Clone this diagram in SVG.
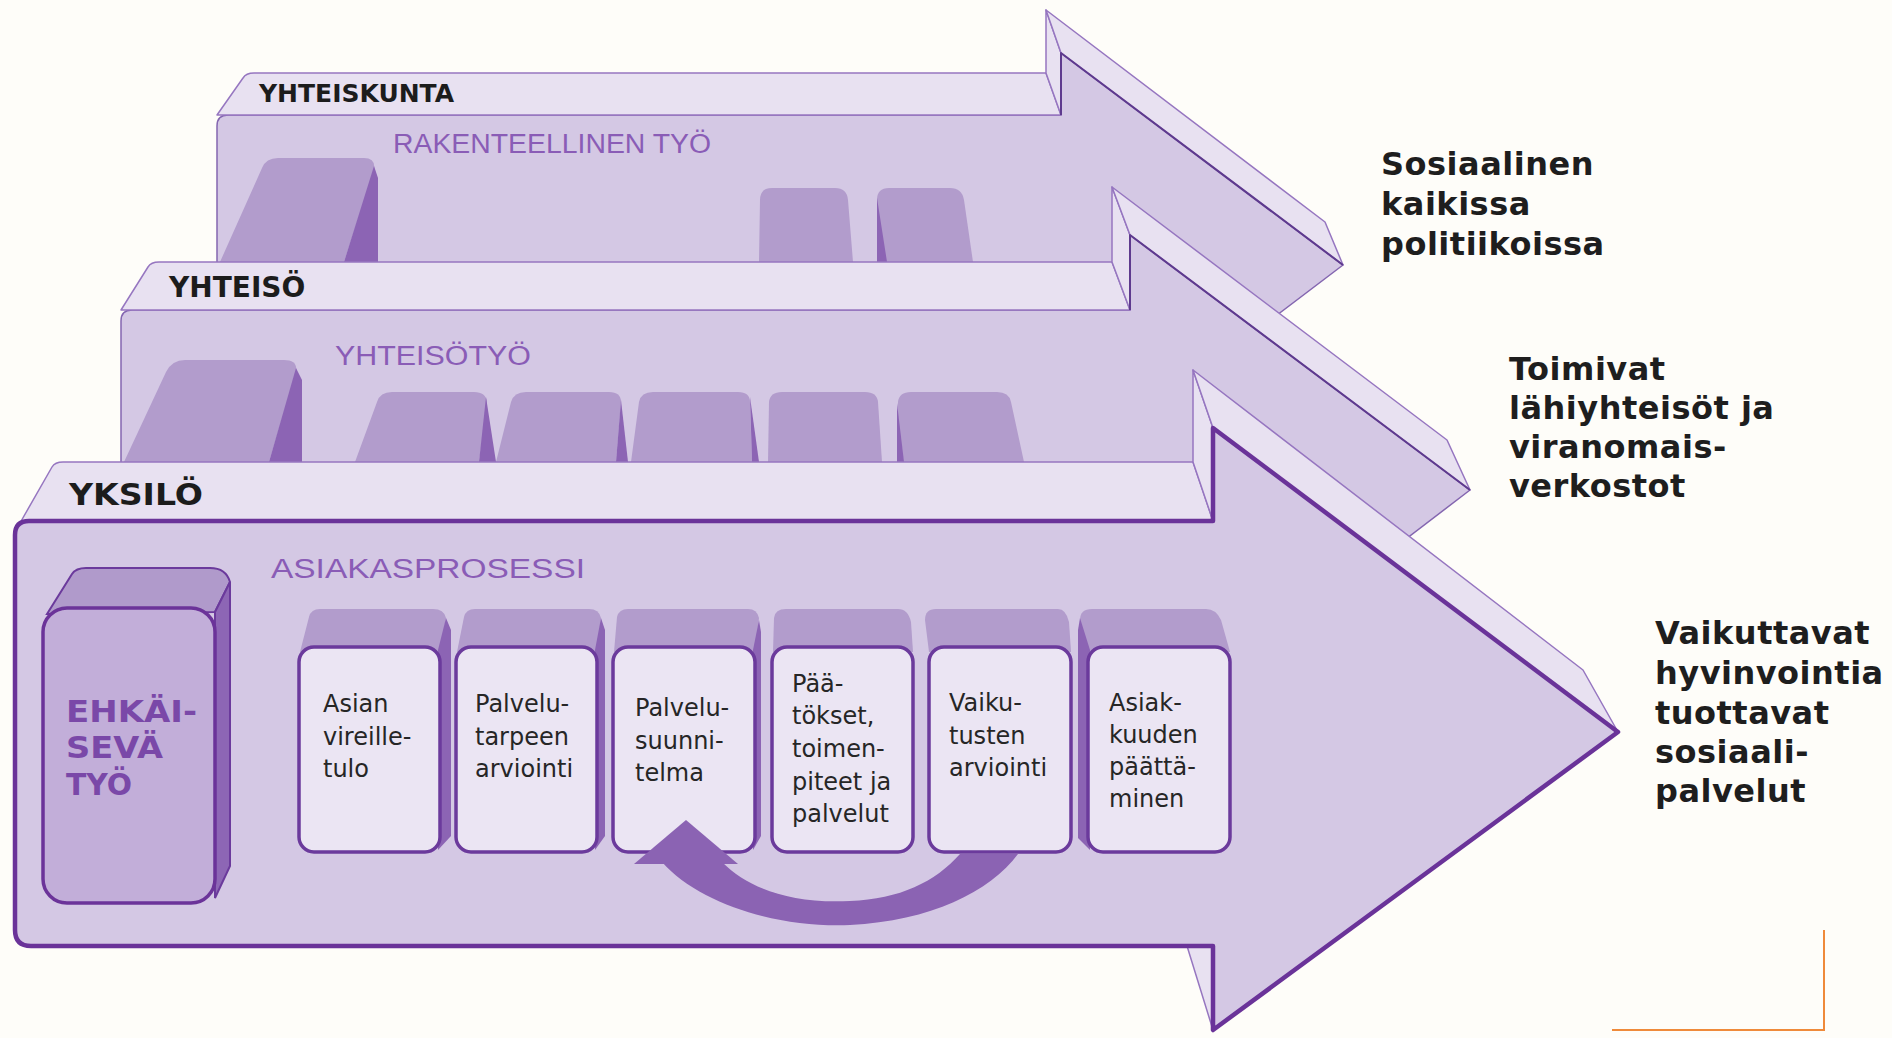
<svg xmlns="http://www.w3.org/2000/svg" width="1892" height="1038" viewBox="0 0 1892 1038">
<defs>
<style>
.top{fill:#e8e1f1;stroke:#9676c0;stroke-width:1.5;stroke-linejoin:round}
.face{fill:#d4c8e4;stroke:#8466b0;stroke-width:1.5;stroke-linejoin:round}
.edge{fill:none;stroke:#5e3a8e;stroke-width:2;stroke-linejoin:round}
.blk{fill:#b29ccc}
.dk{fill:#8c64b4}
.mainface{fill:#d4c8e4;stroke:#6a3399;stroke-width:4.5;stroke-linejoin:round}
.box{fill:#ebe5f3;stroke:#6b3a9c;stroke-width:3.5}
.btop{fill:#b29ccc}
.lvl{font-family:"DejaVu Sans",sans-serif;font-weight:bold;fill:#1c1c1c}
.lab{font-family:"Liberation Sans",Arial,sans-serif;font-size:27px;fill:#8a5cb6}
.bt{font-family:"DejaVu Sans",sans-serif;font-size:24px;fill:#262626}
.rt{font-family:"DejaVu Sans",sans-serif;font-weight:bold;font-size:32px;fill:#1e1e1e;letter-spacing:0.5px}
.ek{font-family:"DejaVu Sans",sans-serif;font-weight:bold;font-size:31px;fill:#7a48a8}
</style>
</defs>
<rect width="1892" height="1038" fill="#fefdf9"/>

<g id="arrow-yhteiskunta">
<path class="face" d="M217 375 L217 126 Q217 115 228 115 L1061 115 L1061 53 L1343 265 L1198 375 Z"/>
<path class="top" d="M217 115 L243 78 Q246 73 254 73 L1046 73 L1061 115 Z"/>
<path class="top" d="M1046 73 L1046 10 L1061 53 L1061 115 Z"/>
<path class="top" d="M1046 10 L1325 222 L1343 265 L1061 53 Z"/>
<path class="edge" d="M1061 115 L1061 53 L1343 265"/>
<path class="blk" d="M220 262 L262 168 Q266 158 278 158 L364 158 Q376 158 374 170 L344 262 Z"/>
<path class="dk" d="M374 166 L378 178 L378 262 L344 262 Z"/>
<path class="blk" d="M759 262 L760 200 Q760 188 772 188 L835 188 Q847 188 848 200 L853 262 Z"/>
<path class="blk" d="M877 262 L877 200 Q877 188 889 188 L950 188 Q962 188 964 200 L973 262 Z"/>
<path class="dk" d="M877 198 L887 262 L877 262 Z"/>
<text class="lvl" x="259" y="102" font-size="25">YHTEISKUNTA</text>
<text class="lab" x="393" y="153" textLength="318" lengthAdjust="spacingAndGlyphs">RAKENTEELLINEN TYÖ</text>
</g>

<g id="arrow-yhteiso">
<path class="face" d="M121 620 L121 321 Q121 310 132 310 L1130 310 L1130 235 L1470 490 L1300 620 Z"/>
<path class="top" d="M121 310 L148 267 Q151 262 159 262 L1112 262 L1130 310 Z"/>
<path class="top" d="M1112 262 L1112 187 L1130 235 L1130 310 Z"/>
<path class="top" d="M1112 187 L1447 440 L1470 490 L1130 235 Z"/>
<path class="edge" d="M1130 310 L1130 235 L1470 490"/>
<path class="blk" d="M124 462 L166 372 Q172 360 185 360 L284 360 Q298 360 296 372 L269 462 Z"/>
<path class="dk" d="M296 368 L302 380 L302 462 L269 462 Z"/>
<path class="blk" d="M355 462 L377 402 Q380 392 392 392 L474 392 Q486 392 487 402 L479 462 Z"/>
<path class="dk" d="M486 397 L496 462 L479 462 Z"/>
<path class="blk" d="M496 462 L511 402 Q514 392 526 392 L609 392 Q621 392 621 402 L616 462 Z"/>
<path class="dk" d="M621 400 L628 462 L616 462 Z"/>
<path class="blk" d="M631 462 L639 402 Q641 392 653 392 L738 392 Q750 392 750 402 L752 462 Z"/>
<path class="dk" d="M750 397 L759 462 L752 462 Z"/>
<path class="blk" d="M768 462 L769 402 Q770 392 782 392 L865 392 Q877 392 878 402 L882 462 Z"/>
<path class="blk" d="M897 462 L898 402 Q899 392 911 392 L997 392 Q1009 392 1011 402 L1024 462 Z"/>
<path class="dk" d="M897 403 L904 462 L897 462 Z"/>
<text class="lvl" x="169" y="297" font-size="28">YHTEISÖ</text>
<text class="lab" x="335" y="365" textLength="196" lengthAdjust="spacingAndGlyphs">YHTEISÖTYÖ</text>
</g>

<g id="arrow-yksilo">
<path class="top" d="M20 523 L52 467 Q55 462 63 462 L1193 462 L1213 521 Z"/>
<path class="top" d="M1193 462 L1193 370 L1213 428 L1213 521 Z"/>
<path class="top" d="M1193 370 L1583 670 L1618 732 L1213 428 Z"/>
<path class="top" d="M1187 946 L1213 946 L1213 1030 Z"/>
<path class="mainface" d="M15 535 Q15 521 29 521 L1213 521 L1213 428 L1618 732 L1213 1030 L1213 946 L31 946 Q15 946 15 930 Z"/>
<text class="lvl" x="69" y="505" font-size="31" textLength="134" lengthAdjust="spacingAndGlyphs">YKSILÖ</text>
<text class="lab" x="271" y="578" textLength="314" lengthAdjust="spacingAndGlyphs">ASIAKASPROSESSI</text>
</g>

<g id="node-ehkaiseva">
<path fill="#b09acb" stroke="#6b3a9c" stroke-width="2" d="M47 614 L72 574 Q76 568 86 568 L210 568 Q226 568 230 582 L215 612 Z"/>
<path fill="#8d66b5" stroke="#6b3a9c" stroke-width="2" d="M215 612 L230 582 L230 866 L215 898 Z"/>
<rect x="43" y="608" width="172" height="295" rx="24" fill="#c2aed9" stroke="#6b3399" stroke-width="3.5"/>
<text class="ek" x="66" y="722" textLength="131" lengthAdjust="spacingAndGlyphs">EHKÄI-</text>
<text class="ek" x="66" y="758" textLength="97" lengthAdjust="spacingAndGlyphs">SEVÄ</text>
<text class="ek" x="66" y="795" textLength="66" lengthAdjust="spacingAndGlyphs">TYÖ</text>
</g>

<g id="node-asian-vireilletulo">
<path class="btop" d="M300 652 L309 617 Q311 609 320 609 L433 609 Q444 609 446 618 L440 652 Z"/>
<path class="dk" d="M438 650 L446 618 L451 630 L451 836 L438 850 Z"/>
<rect class="box" x="299" y="647" width="141" height="205" rx="15"/>
<text class="bt" x="323" y="712">Asian</text>
<text class="bt" x="323" y="745">vireille-</text>
<text class="bt" x="323" y="777">tulo</text>
</g>

<g id="node-palvelutarpeen-arviointi">
<path class="btop" d="M457 652 L464 617 Q466 609 475 609 L589 609 Q599 609 601 618 L597 652 Z"/>
<path class="dk" d="M595 650 L601 618 L605 630 L605 836 L595 850 Z"/>
<rect class="box" x="456" y="647" width="141" height="205" rx="15"/>
<text class="bt" x="475" y="712">Palvelu-</text>
<text class="bt" x="475" y="745">tarpeen</text>
<text class="bt" x="475" y="777">arviointi</text>
</g>

<g id="node-palvelusuunnitelma">
<path class="btop" d="M614 652 L617 617 Q619 609 628 609 L748 609 Q757 609 759 618 L755 652 Z"/>
<path class="dk" d="M753 650 L759 620 L761 632 L761 836 L753 850 Z"/>
<rect class="box" x="613" y="647" width="142" height="205" rx="15"/>
<text class="bt" x="635" y="716">Palvelu-</text>
<text class="bt" x="635" y="749">suunni-</text>
<text class="bt" x="635" y="781">telma</text>
</g>

<g id="node-paatokset">
<path class="btop" d="M773 652 L774 618 Q775 609 786 609 L898 609 Q908 609 911 622 L913 652 Z"/>
<rect class="box" x="772" y="647" width="141" height="205" rx="15"/>
<text class="bt" x="792" y="692">Pää-</text>
<text class="bt" x="792" y="724">tökset,</text>
<text class="bt" x="792" y="757">toimen-</text>
<text class="bt" x="792" y="790">piteet ja</text>
<text class="bt" x="792" y="822">palvelut</text>
</g>

<g id="node-vaikutusten-arviointi">
<path class="btop" d="M929 652 L925 620 Q925 609 936 609 L1058 609 Q1066 609 1069 622 L1071 652 Z"/>
<rect class="box" x="929" y="647" width="142" height="205" rx="15"/>
<text class="bt" x="949" y="711">Vaiku-</text>
<text class="bt" x="949" y="744">tusten</text>
<text class="bt" x="949" y="776">arviointi</text>
</g>

<g id="node-asiakkuuden-paattaminen">
<path class="btop" d="M1088 652 L1080 620 Q1080 609 1092 609 L1206 609 Q1216 609 1221 620 L1230 652 Z"/>
<path class="dk" d="M1090 650 L1080 618 L1078 630 L1078 838 L1090 850 Z"/>
<rect class="box" x="1088" y="647" width="142" height="205" rx="15"/>
<text class="bt" x="1109" y="711">Asiak-</text>
<text class="bt" x="1109" y="743">kuuden</text>
<text class="bt" x="1109" y="775">päättä-</text>
<text class="bt" x="1109" y="807">minen</text>
</g>

<g id="connectors">
<path fill="#8b63b3" d="M662 862 C700 905 780 928 850 925 C930 921 990 892 1018 854 L960 854 C935 882 900 899 850 901 C790 904 748 888 722 862 Z"/>
<path fill="#8b63b3" d="M634 864 L686 820 L738 864 Z"/>
</g>

<g id="outcomes">
<text class="rt" x="1381" y="175">Sosiaalinen</text>
<text class="rt" x="1381" y="215">kaikissa</text>
<text class="rt" x="1381" y="255">politiikoissa</text>
<text class="rt" x="1509" y="380">Toimivat</text>
<text class="rt" x="1509" y="419">lähiyhteisöt ja</text>
<text class="rt" x="1509" y="458">viranomais-</text>
<text class="rt" x="1509" y="497">verkostot</text>
<text class="rt" x="1655" y="644">Vaikuttavat</text>
<text class="rt" x="1655" y="684">hyvinvointia</text>
<text class="rt" x="1655" y="724">tuottavat</text>
<text class="rt" x="1655" y="763">sosiaali-</text>
<text class="rt" x="1655" y="802">palvelut</text>
</g>

<path d="M1824 930 L1824 1030 L1612 1030" fill="none" stroke="#ef8a3a" stroke-width="2"/>
</svg>
